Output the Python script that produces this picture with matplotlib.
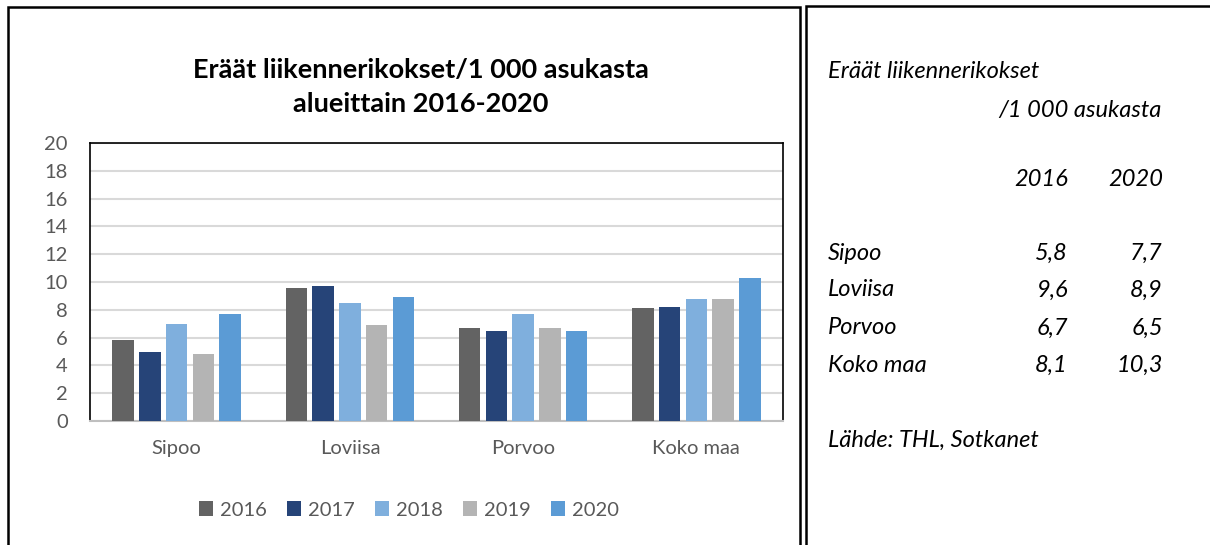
import numpy as np
import matplotlib
matplotlib.use('Agg')
import matplotlib.pyplot as plt
from matplotlib.patches import Rectangle, Patch

W, H = 1210, 545

regions = ['Sipoo', 'Loviisa', 'Porvoo', 'Koko maa']
years = ['2016', '2017', '2018', '2019', '2020']
values = {
    '2016': [5.8, 9.6, 6.7, 8.1],
    '2017': [5.0, 9.7, 6.5, 8.2],
    '2018': [7.0, 8.5, 7.7, 8.8],
    '2019': [4.8, 6.9, 6.7, 8.8],
    '2020': [7.7, 8.9, 6.5, 10.3],
}
colors = ['#636363', '#264478', '#7FAFDD', '#B4B4B4', '#5B9BD5']

table_rows = ['Sipoo', 'Loviisa', 'Porvoo', 'Koko maa']
table_2016 = ['5,8', '9,6', '6,7', '8,1']
table_2020 = ['7,7', '8,9', '6,5', '10,3']

plt.rcParams['font.family'] = ['Lato', 'DejaVu Sans']
GRAY = '#595959'


def fx(px):
    return px / W


def fy(py):
    return 1 - py / H


fig = plt.figure(figsize=(W / 100, H / 100), dpi=100)

# chart panel
ax = fig.add_axes([fx(90), fy(421), fx(783 - 90), (421 - 143) / H])
x = np.arange(len(regions))
slot = 0.1544
bw = 0.124
for i, yr in enumerate(years):
    ax.bar(x + (i - 2) * slot, values[yr], width=bw, color=colors[i], zorder=3)

ax.set_xlim(-0.5, 3.5)
ax.set_ylim(0, 20)
ax.set_yticks(range(0, 21, 2))
ax.set_xticks(x)
ax.set_xticklabels(regions)
ax.tick_params(axis='y', length=0, pad=16, labelsize=14.5, labelcolor=GRAY)
ax.tick_params(axis='x', length=0, pad=14, labelsize=14.5, labelcolor=GRAY)
ax.grid(axis='y', color='#D9D9D9', linewidth=1.5, zorder=0)
for side in ['top', 'left', 'right']:
    ax.spines[side].set_color('black')
    ax.spines[side].set_linewidth(1.2)
ax.spines['bottom'].set_color('#BFBFBF')
ax.spines['bottom'].set_linewidth(1.5)

fig.text(fx(421), fy(87), 'Eräät liikennerikokset/1 000 asukasta\nalueittain 2016-2020',
         ha='center', va='center', fontsize=19.5, fontweight='bold', linespacing=1.5)

handles = [Patch(facecolor=c, label=y) for c, y in zip(colors, years)]
fig.legend(handles=handles, loc='center', bbox_to_anchor=(fx(409), fy(510)), ncol=5,
           frameon=False, fontsize=14.5, labelcolor=GRAY, handlelength=0.7, handleheight=0.7,
           handletextpad=0.35, columnspacing=1.0)

# text panel
it = dict(fontsize=17, style='italic', color='black', va='center')
fig.text(fx(828), fy(72), 'Eräät liikennerikokset', ha='left', **it)
fig.text(fx(1162), fy(110), '/1 000 asukasta', ha='right', **it)
fig.text(fx(1068), fy(180), '2016', ha='right', **it)
fig.text(fx(1163), fy(180), '2020', ha='right', **it)
row_y = [253, 290, 328, 365]
for name, a, b, yy in zip(table_rows, table_2016, table_2020, row_y):
    fig.text(fx(828), fy(yy), name, ha='left', **it)
    fig.text(fx(1068), fy(yy), a, ha='right', **it)
    fig.text(fx(1163), fy(yy), b, ha='right', **it)
fig.text(fx(828), fy(440), 'Lähde: THL, Sotkanet', ha='left', **it)

# panel borders
fig.add_artist(Rectangle((fx(8), fy(560)), fx(800 - 8), (560 - 7) / H,
                         transform=fig.transFigure, fill=False, edgecolor='black', linewidth=1.8))
fig.add_artist(Rectangle((fx(806), fy(560)), fx(1230 - 806), (560 - 6) / H,
                         transform=fig.transFigure, fill=False, edgecolor='black', linewidth=1.8))

fig.savefig('out.png', dpi=100)
